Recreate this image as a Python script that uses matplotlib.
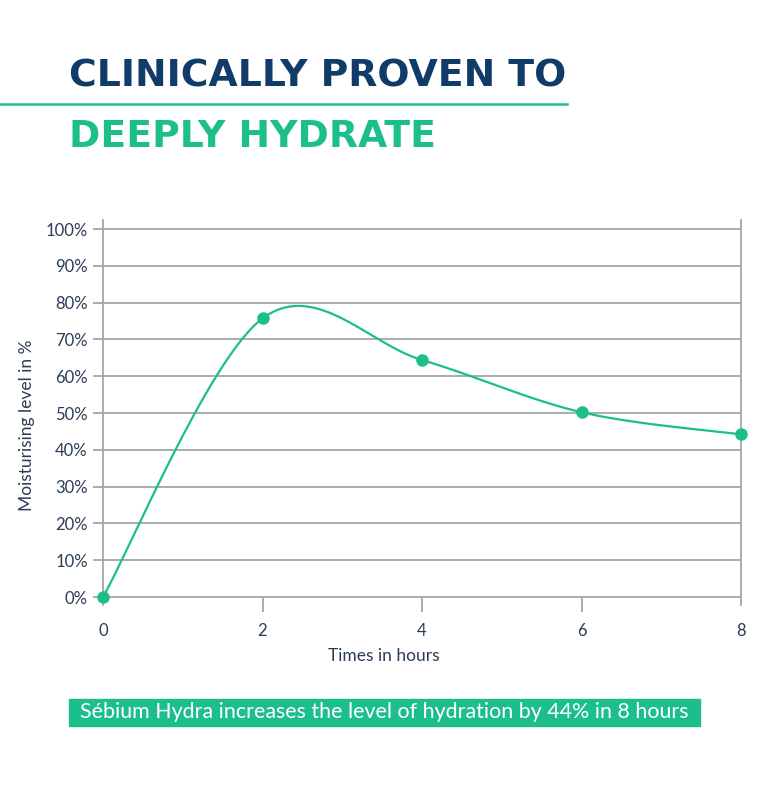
import numpy as np
import matplotlib
matplotlib.use("Agg")
import matplotlib.pyplot as plt

hours = [0, 2, 4, 6, 8]
moisture = [0, 75.7, 64.4, 50.2, 44.2]
y_ticks = [0, 10, 20, 30, 40, 50, 60, 70, 80, 90, 100]
y_tick_labels = [f"{v}%" for v in y_ticks]
x_ticks = [0, 2, 4, 6, 8]

NAVY = "#113b68"
GREEN = "#1cbf8b"
GRID = "#a3a7ab"
TXT = "#2b3d55"

W, H = 770, 811
fig = plt.figure(figsize=(W / 100, H / 100), dpi=100)

ax = fig.add_axes([103 / W, 1 - 605 / H, (741 - 103) / W, (605 - 220) / H])
ax.set_xlim(0, 8)
ax.set_ylim(-8 / 3.68, 100 + 9 / 3.68)


# Uniform Catmull-Rom curve through the data points, drawn as cubic Bezier pieces
def catmull_rom(xs, ys, n=60):
    P = np.column_stack([xs, ys]).astype(float)
    m = len(P)
    t = np.linspace(0, 1, n)[:, None]
    out = []
    for i in range(m - 1):
        p_prev = P[max(i - 1, 0)]
        p0, p3 = P[i], P[i + 1]
        p_next = P[min(i + 2, m - 1)]
        c1 = p0 + (p3 - p_prev) / 6
        c2 = p3 - (p_next - p0) / 6
        b = (1 - t) ** 3 * p0 + 3 * (1 - t) ** 2 * t * c1 + 3 * (1 - t) * t ** 2 * c2 + t ** 3 * p3
        out.append(b)
    out = np.vstack(out)
    return out[:, 0], out[:, 1]


cx, cy = catmull_rom(hours, moisture)

for v in y_ticks:
    ax.axhline(v, color=GRID, lw=1.3, zorder=1)
for s in ["top", "bottom"]:
    ax.spines[s].set_visible(False)
for s in ["left", "right"]:
    ax.spines[s].set_color(GRID)
    ax.spines[s].set_linewidth(1.3)

ax.plot(cx, cy, color=GREEN, lw=1.6, zorder=3, clip_on=False)
ax.plot(hours, moisture, "o", color=GREEN, ms=8, zorder=4, clip_on=False)

ax.set_yticks(y_ticks)
ax.set_yticklabels(y_tick_labels)
ax.set_xticks(x_ticks)
ax.set_xticklabels([str(v) for v in x_ticks])
ax.tick_params(axis="y", length=7, width=1.3, color=GRID, pad=4, labelsize=12, labelcolor=TXT)
ax.tick_params(axis="x", direction="inout", length=10, width=1.3, color=GRID, pad=8,
               labelsize=12, labelcolor=TXT)
for lab in ax.get_xticklabels() + ax.get_yticklabels():
    lab.set_fontfamily("Lato")
ticks = ax.xaxis.get_major_ticks()
ticks[0].tick1line.set_visible(False)
ticks[-1].tick1line.set_visible(False)

fig.text(384 / W, 1 - 656 / H, "Times in hours", ha="center", va="center",
         fontsize=12.5, color=TXT, family="Lato")
fig.text(27 / W, 1 - 425 / H, "Moisturising level in %", ha="center", va="center",
         rotation=90, fontsize=12.5, color=TXT, family="Lato")

# Titles
fig.text(69 / W, 1 - 86.7 / H, "CLINICALLY PROVEN TO", ha="left", va="baseline",
         fontsize=27.2, color=NAVY, family="DejaVu Sans", fontweight="bold")
fig.add_artist(plt.Line2D([0, 567 / W], [1 - 104.3 / H, 1 - 104.3 / H],
                          color=GREEN, lw=1.8, transform=fig.transFigure))
fig.text(69 / W, 1 - 147.3 / H, "DEEPLY HYDRATE", ha="left", va="baseline",
         fontsize=27.2, color=GREEN, family="DejaVu Sans", fontweight="bold")

# Footer banner
fig.add_artist(plt.Rectangle((69 / W, 1 - 726 / H), (700 - 69) / W, 27 / H,
                             color=GREEN, transform=fig.transFigure, zorder=0))
fig.text(384.5 / W, 1 - 712.5 / H,
         "Sébium Hydra increases the level of hydration by 44% in 8 hours",
         ha="center", va="center", fontsize=15.4, color="white", family="Lato")

fig.savefig("out.png", dpi=100)
